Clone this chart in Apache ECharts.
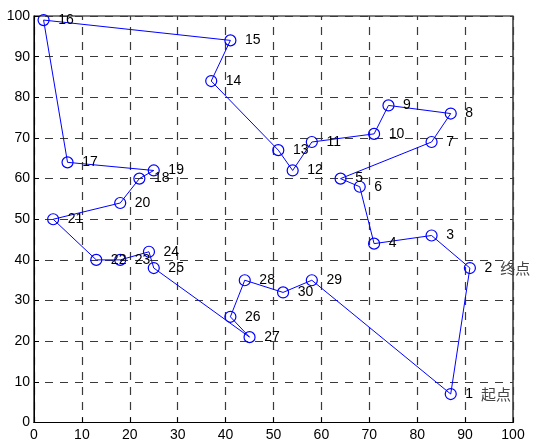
<!DOCTYPE html>
<html>
<head>
<meta charset="utf-8">
<script src="https://cdn.jsdelivr.net/npm/echarts@6/dist/echarts.min.js"></script>
<style>html,body{margin:0;padding:0;background:#fff}#c{width:533px;height:444px}</style>
</head>
<body>
<div id="c"></div>
<script>
// City coordinates (city n at index n-1)
const cityX = [87, 91, 83, 71, 64, 68, 83, 87, 74, 71, 58, 54, 51, 37, 41, 2, 7, 22, 25, 18, 4, 13, 18, 24, 25, 41, 45, 44, 58, 52];
const cityY = [7, 38, 46, 44, 60, 58, 69, 76, 78, 71, 69, 62, 67, 84, 94, 99, 64, 60, 62, 54, 50, 40, 40, 42, 38, 26, 21, 35, 35, 32];
const cityLabels = ['1','2','3','4','5','6','7','8','9','10','11','12','13','14','15','16','17','18','19','20','21','22','23','24','25','26','27','28','29','30'];
const route = [1, 2, 3, 4, 6, 5, 7, 8, 9, 10, 11, 12, 13, 14, 15, 16, 17, 19, 18, 20, 21, 22, 23, 24, 25, 27, 26, 28, 30, 29, 1];
const extraNotes = {1: '起点', 2: '终点'};
const xTicks = [0, 10, 20, 30, 40, 50, 60, 70, 80, 90, 100];
const yTicks = [0, 10, 20, 30, 40, 50, 60, 70, 80, 90, 100];

const routeData = route.map(c => [cityX[c - 1], cityY[c - 1]]);
const cityData = cityX.map((x, i) => ({
  value: [x, cityY[i]],
  name: cityLabels[i],
  note: extraNotes[i + 1] || ''
}));

const font = '"Liberation Sans", Arial, sans-serif';
const chart = echarts.init(document.getElementById('c'), null, {renderer: 'canvas'});
const axisCommon = {
  min: 0, max: 100, interval: 10,
  axisLine: {show: true, lineStyle: {color: '#000', width: 1}},
  axisTick: {show: true, inside: true, length: 5, lineStyle: {color: '#000'}},
  splitLine: {show: true, lineStyle: {color: '#3a3a3a', width: 1.2, type: [8, 7], dashOffset: 4}},
  axisLabel: {color: '#000', fontSize: 14, fontFamily: font}
};
chart.setOption({
  animation: false,
  backgroundColor: '#fff',
  grid: {left: 34, right: 20, top: 16, bottom: 21.5, show: true, borderColor: '#000', borderWidth: 1.2},
  xAxis: Object.assign({}, axisCommon, {type: 'value',
    axisLabel: Object.assign({}, axisCommon.axisLabel, {margin: 6,
      formatter: v => xTicks.includes(v) ? String(v) : ''})}),
  yAxis: Object.assign({}, axisCommon, {type: 'value',
    axisLabel: Object.assign({}, axisCommon.axisLabel, {margin: 4,
      formatter: v => yTicks.includes(v) ? String(v) : ''})}),
  series: [
    {
      type: 'line',
      data: routeData,
      showSymbol: false,
      symbol: 'none',
      lineStyle: {color: '#0000ff', width: 1},
      silent: true,
      z: 3
    },
    {
      type: 'scatter',
      data: cityData,
      symbol: 'circle',
      symbolSize: 11,
      itemStyle: {color: 'rgba(0,0,0,0)', borderColor: '#0000ff', borderWidth: 1.2, opacity: 1},
      z: 4,
      label: {
        show: true,
        position: 'right',
        distance: 8.5,
        align: 'left',
        verticalAlign: 'middle',
        fontSize: 14,
        fontFamily: font,
        color: '#000',
        formatter: p => p.data.note ? '{a|' + p.data.name + '}{b|' + p.data.note + '}' : p.data.name,
        rich: {
          a: {fontSize: 14, fontFamily: font, color: '#000'},
          b: {fontSize: 15, fontFamily: '"Noto Sans CJK SC", sans-serif', color: '#444', padding: [0, 0, 0, 8]}
        }
      }
    }
  ]
});
</script>
</body>
</html>
